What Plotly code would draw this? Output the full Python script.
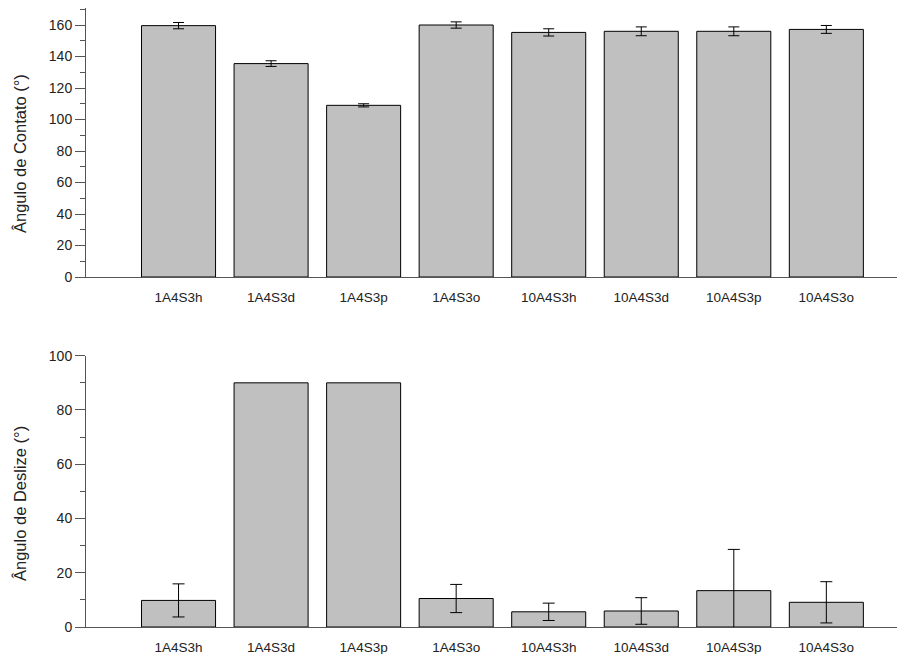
import plotly.graph_objects as go
from plotly.subplots import make_subplots

categories = ["1A4S3h", "1A4S3d", "1A4S3p", "1A4S3o", "10A4S3h", "10A4S3d", "10A4S3p", "10A4S3o"]
contact_angle = [159.6, 135.5, 109.0, 160.0, 155.3, 156.0, 156.0, 157.2]
contact_err = [2.0, 1.8, 1.0, 2.0, 2.3, 2.8, 2.8, 2.5]
slide_angle = [9.8, 90.0, 90.0, 10.5, 5.6, 5.9, 13.4, 9.1]
slide_err = [6.1, None, None, 5.2, 3.2, 4.9, 15.2, 7.6]

fig = make_subplots(rows=2, cols=1)

bar_style = dict(marker=dict(color="#c0c0c0", line=dict(color="#000000", width=1)), width=0.8)

fig.add_trace(go.Bar(x=categories, y=contact_angle,
                     error_y=dict(type="data", array=contact_err, color="#000000", thickness=1, width=5.5),
                     **bar_style), row=1, col=1)
fig.add_trace(go.Bar(x=categories, y=slide_angle, **bar_style), row=2, col=1)

# error bars only where a deviation exists
idx = [i for i, e in enumerate(slide_err) if e is not None]
fig.add_trace(go.Scatter(x=[categories[i] for i in idx], y=[slide_angle[i] for i in idx],
                         mode="markers", marker=dict(size=1, opacity=0),
                         error_y=dict(type="data", array=[slide_err[i] for i in idx],
                                      color="#000000", thickness=1, width=6),
                         hoverinfo="skip"), row=2, col=1)

# page body has an 8px margin: the figure's paper starts at (8, 8)
OFF = 8
W, H = 905 - OFF, 654 - OFF
left = 86 - OFF
top_plot = 8 - OFF
plot_bottom = 627 - OFF
bot_plot = H - plot_bottom
plot_h = plot_bottom - top_plot
plot_w = W - left

def frac(ypix):
    return (plot_bottom - (ypix - OFF)) / plot_h

def xfrac(xpix):
    return (xpix - OFF - left) / plot_w

FONT = "Liberation Sans, Arial"
xcommon = dict(range=[-1, 7.85], showline=True, linecolor="#555555", linewidth=1,
               ticks="outside", ticklen=8, tickcolor="rgba(0,0,0,0)",
               tickfont=dict(family=FONT, size=13.5, color="#222222"),
               showgrid=False, zeroline=False, fixedrange=True)
ycommon = dict(showline=True, linecolor="#555555", linewidth=1, ticks="outside", ticklen=10,
               tickcolor="#555555", tickfont=dict(family=FONT, size=14, color="#222222"),
               showgrid=False, zeroline=False,
               minor=dict(ticks="outside", ticklen=5, tickcolor="#555555", dtick=10))

fig.update_xaxes(**xcommon)
fig.update_yaxes(**ycommon)
fig.update_yaxes(range=[0, 170.8], dtick=20, domain=[frac(277), 1.0], row=1, col=1)
fig.update_yaxes(range=[0, 100], dtick=20, domain=[0, frac(355.7)], row=2, col=1)

fig.update_layout(
    width=W, height=H,
    margin=dict(l=left, r=0, t=top_plot, b=bot_plot, autoexpand=False),
    showlegend=False, plot_bgcolor="white", paper_bgcolor="white",
    bargap=0.2,
    annotations=[
        dict(text="Ângulo de Contato (°)", textangle=-90, xref="paper", yref="paper",
             x=xfrac(20), y=frac(154), xanchor="center", yanchor="middle", showarrow=False,
             font=dict(family=FONT, size=16.5, color="#222222")),
        dict(text="Ângulo de Deslize (°)", textangle=-90, xref="paper", yref="paper",
             x=xfrac(20), y=frac(504), xanchor="center", yanchor="middle", showarrow=False,
             font=dict(family=FONT, size=16.5, color="#222222")),
    ],
)

fig.write_html("out.html")
